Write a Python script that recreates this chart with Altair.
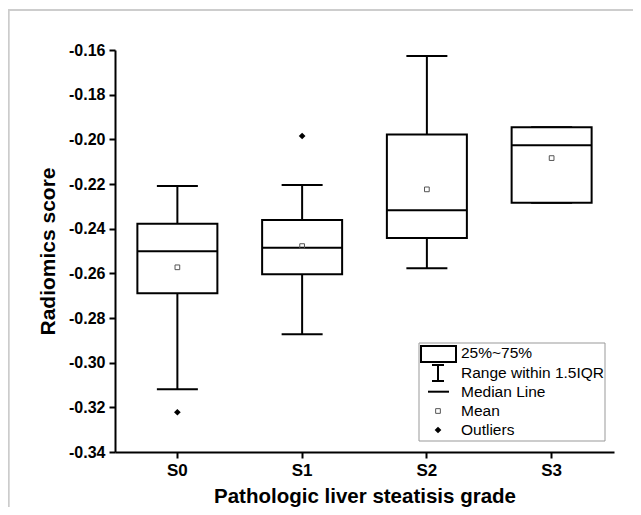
import altair as alt
import pandas as pd

grades = ["S0", "S1", "S2", "S3"]
lower_whisker = [-0.3119, -0.2873, -0.2577, -0.2284]
q1 = [-0.2689, -0.2604, -0.2442, -0.2284]
median = [-0.2501, -0.2485, -0.2318, -0.2027]
q3 = [-0.2378, -0.2361, -0.1978, -0.1946]
upper_whisker = [-0.2209, -0.2204, -0.1627, -0.1946]
mean = [-0.2573, -0.2478, -0.2224, -0.2084]
outlier_grade = ["S0", "S1"]
outlier_value = [-0.3222, -0.1985]
y_ticks = [-0.34, -0.32, -0.30, -0.28, -0.26, -0.24, -0.22, -0.20, -0.18, -0.16]
legend_labels = ["25%~75%", "Range within 1.5IQR", "Median Line", "Mean", "Outliers"]

FONT = "Liberation Sans"

box_df = pd.DataFrame({
    "grade": grades, "lo": lower_whisker, "q1": q1, "med": median,
    "q3": q3, "hi": upper_whisker, "mean": mean,
})
out_df = pd.DataFrame({"grade": outlier_grade, "val": outlier_value})

xenc = alt.X("grade:N", sort=grades,
             scale=alt.Scale(paddingInner=0, paddingOuter=0),
             axis=alt.Axis(title="Pathologic liver steatisis grade", labelAngle=0))
yscale = alt.Scale(domain=[-0.34, -0.16], nice=False, zero=False)
yaxis = alt.Axis(title="Radiomics score", values=y_ticks,
                 labelExpr="replace(format(datum.value, '.2f'), '\u2212', '-')")

base = alt.Chart(box_df)

whisk_up = base.mark_rule(color="black", strokeWidth=2, opacity=1).encode(
    x=xenc, y=alt.Y("q3:Q", scale=yscale, axis=yaxis), y2="hi:Q")
whisk_lo = base.mark_rule(color="black", strokeWidth=2, opacity=1).encode(
    x=xenc, y=alt.Y("lo:Q", scale=yscale), y2="q1:Q")
cap_hi = base.mark_tick(color="black", thickness=2, size=41, opacity=1).encode(x=xenc, y="hi:Q")
cap_lo = base.mark_tick(color="black", thickness=2, size=41, opacity=1).encode(x=xenc, y="lo:Q")
boxes = base.mark_bar(fill="white", stroke="black", strokeWidth=2, size=80, opacity=1).encode(
    x=xenc, y="q1:Q", y2="q3:Q")
med = base.mark_tick(color="black", thickness=2, size=80, opacity=1).encode(x=xenc, y="med:Q")
means = base.mark_point(shape="square", size=22, filled=False, color="#555555",
                        strokeWidth=1, opacity=1).encode(x=xenc, y="mean:Q")
outs = alt.Chart(out_df).mark_point(shape="diamond", size=45, filled=True,
                                    color="black", opacity=1).encode(x=xenc, y="val:Q")

# frame lines (gray border of the figure)
frame_top = base.mark_rule(color="#cccccc", strokeWidth=1.5).encode(
    x=alt.value(-107), x2=alt.value(526), y=alt.value(-40))
frame_left = base.mark_rule(color="#cccccc", strokeWidth=1.5).encode(
    x=alt.value(-106.5), y=alt.value(-40), y2=alt.value(470))

# custom legend
lg = alt.Chart(pd.DataFrame({"a": [0]}))
lg_box = lg.mark_rect(fill="white", stroke="#999999", strokeWidth=1).encode(
    x=alt.value(304), x2=alt.value(490), y=alt.value(293), y2=alt.value(391))
lg_rect = lg.mark_rect(fill="white", stroke="black", strokeWidth=2).encode(
    x=alt.value(306), x2=alt.value(341), y=alt.value(296), y2=alt.value(312))
lg_wv = lg.mark_rule(color="black", strokeWidth=2).encode(
    x=alt.value(323), y=alt.value(315), y2=alt.value(331))
lg_wt = lg.mark_rule(color="black", strokeWidth=2).encode(
    x=alt.value(317), x2=alt.value(329), y=alt.value(315))
lg_wb = lg.mark_rule(color="black", strokeWidth=2).encode(
    x=alt.value(317), x2=alt.value(329), y=alt.value(331))
lg_med = lg.mark_rule(color="black", strokeWidth=2).encode(
    x=alt.value(313), x2=alt.value(334), y=alt.value(341.7))
lg_mean = lg.mark_point(shape="square", size=22, filled=False, color="#555555",
                        strokeWidth=1, opacity=1).encode(x=alt.value(323), y=alt.value(361))
lg_out = lg.mark_point(shape="diamond", size=45, filled=True, color="black",
                       opacity=1).encode(x=alt.value(323), y=alt.value(380))
text_ys = [303, 322.5, 341.7, 361, 380]
lg_texts = [
    lg.mark_text(text=t, align="left", baseline="middle", font=FONT, fontSize=15.5,
                 color="black").encode(x=alt.value(346), y=alt.value(yy))
    for t, yy in zip(legend_labels, text_ys)
]

chart = alt.layer(
    frame_top, frame_left,
    whisk_up, whisk_lo, cap_hi, cap_lo, boxes, med, means, outs,
    lg_box, lg_rect, lg_wv, lg_wt, lg_wb, lg_med, lg_mean, lg_out, *lg_texts,
).properties(
    width=499, height=402,
    autosize=alt.AutoSizeParams(type="none"),
    padding={"left": 107, "top": 42, "right": 19, "bottom": 55},
).configure_view(stroke=None).configure_axis(
    grid=False, domainColor="black", domainWidth=2, tickColor="black",
    tickWidth=2, tickSize=6, labelFont=FONT, labelFontWeight="bold",
    labelColor="black", titleFont=FONT, titleFontWeight="bold", titleColor="black",
).configure_axisY(
    labelFontSize=16, labelPadding=4, titleFontSize=21, titlePadding=10,
).configure_axisX(
    labelFontSize=17, labelPadding=4, titleFontSize=20.5, titlePadding=8,
)

chart.save("out.html", embed_options={"renderer": "svg", "actions": False})
